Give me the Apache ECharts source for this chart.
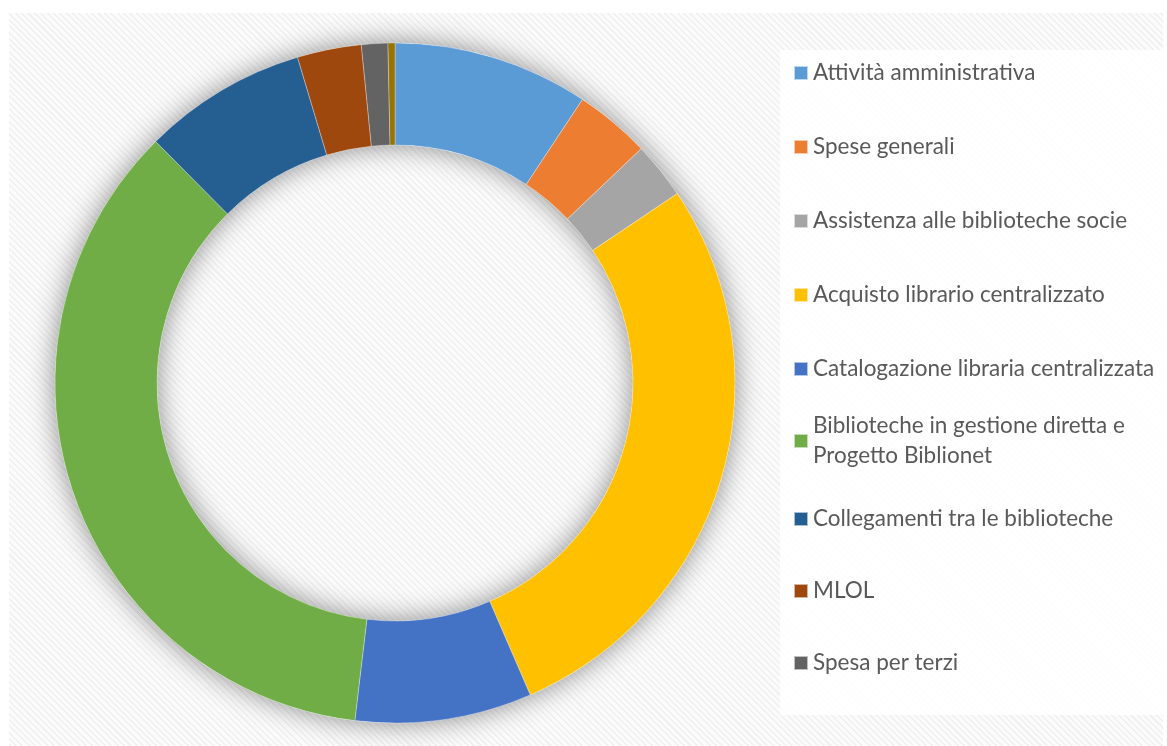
<!DOCTYPE html>
<html>
<head>
<meta charset="utf-8">
<script src="https://cdn.jsdelivr.net/npm/echarts@6/dist/echarts.min.js"></script>
<style>
  html, body { margin: 0; padding: 0; background: #fff; }
  #wrap { position: relative; width: 1167px; height: 746px; }
  #bg {
    position: absolute; left: 9px; top: 13px; width: 1154px; height: 733px;
    background: repeating-linear-gradient(45deg, #f0f0f0 0px, #f0f0f0 1.5px, #fbfbfb 1.5px, #fbfbfb 4.5px);
  }
  #chart { position: absolute; left: 0; top: 0; width: 1167px; height: 746px; }
</style>
</head>
<body>
<div id="wrap">
  <div id="bg"></div>
  <div id="chart"></div>
</div>
<script>
// quote percentuali
const categories = [
  "Attività amministrativa",
  "Spese generali",
  "Assistenza alle biblioteche socie",
  "Acquisto librario centralizzato",
  "Catalogazione libraria centralizzata",
  "Biblioteche in gestione diretta e Progetto Biblionet",
  "Collegamenti tra le biblioteche",
  "MLOL",
  "Spesa per terzi",
  "Altro"
];
const values = [9.3, 3.6, 2.7, 27.9, 8.4, 35.7, 7.8, 3.05, 1.25, 0.33];
const colors = [
  "#5B9BD5", "#ED7D31", "#A5A5A5", "#FFC000", "#4472C4",
  "#70AD47", "#255E91", "#9E480E", "#636363", "#997300"
];
// solo le prime 9 voci compaiono in legenda
const legendNames = categories.slice(0, 9);
const legendCenters = [73, 147, 221, 295, 369, 441, 519, 591, 663];

const myChart = echarts.init(document.getElementById("chart"), null, { renderer: "canvas" });

const legends = legendNames.map((name, i) => {
  const twoLines = name.indexOf("Progetto") > 0;
  return {
    orient: "vertical",
    left: 793,
    top: legendCenters[i] - (twoLines ? 45 : 15),
    padding: 0,
    icon: "rect",
    itemWidth: 14,
    itemHeight: 14,
    data: [name],
    selectedMode: false,
    formatter: (n) => n.replace(" Progetto", "\nProgetto"),
    textStyle: {
      fontFamily: "Lato",
      fontSize: 22.5,
      lineHeight: 30,
      color: "#595959",
      padding: twoLines ? [30, 0, 0, 0] : 0
    }
  };
});

const option = {
  animation: false,
  color: colors,
  graphic: [
    {
      type: "rect",
      shape: { x: 780, y: 50, width: 383, height: 665 },
      style: { fill: "rgba(255,255,255,0.85)" },
      z: -10,
      silent: true
    }
  ],
  legend: legends,
  series: [
    {
      name: "ombra",
      type: "pie",
      center: [395, 383],
      radius: [238, 340],
      silent: true,
      z: 1,
      label: { show: false },
      labelLine: { show: false },
      itemStyle: {
        color: "#ffffff",
        shadowBlur: 28,
        shadowColor: "rgba(0,0,0,0.45)"
      },
      data: [{ value: 1, name: "_ombra" }]
    },
    {
      name: "Spese",
      type: "pie",
      center: [395, 383],
      radius: [238, 340],
      startAngle: 90,
      clockwise: true,
      z: 2,
      label: { show: false },
      labelLine: { show: false },
      emphasis: { scale: false },
      itemStyle: { borderColor: "rgba(255,255,255,0.6)", borderWidth: 0.5 },
      data: categories.map((c, i) => ({ name: c, value: values[i] }))
    }
  ]
};

myChart.setOption(option);
</script>
</body>
</html>
